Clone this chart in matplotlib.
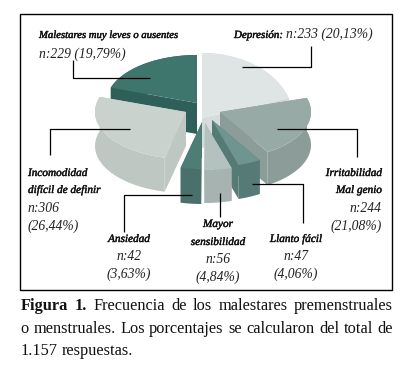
import numpy as np
import matplotlib
matplotlib.use("Agg")
import matplotlib.pyplot as plt
import matplotlib.patheffects as pe
from matplotlib.patches import Polygon, Rectangle

slices = ["Depresion", "Irritabilidad", "Llanto", "Mayor", "Ansiedad", "Incomodidad", "Malestares"]
counts = [233, 244, 47, 56, 42, 306, 229]
percents = ["20,13", "21,08", "4,06", "4,84", "3,63", "26,44", "19,79"]

# slice look: apex position, y radius, depth, top colour, side colour
looks = {
    "Depresion": (202, 118, 65, 30, "#dfe5e4", "#d5dcdb"),
    "Malestares": (197, 103, 48, 31, "#3e766e", "#2f5f59"),
    "Incomodidad": (186, 112, 47, 34, "#c9d2cd", "#bfc7c3"),
    "Irritabilidad": (220, 112, 47, 33, "#98aaa6", "#8c9d99"),
    "Llanto": (212, 120, 47, 34, "#6e968f", "#567a76"),
    "Ansiedad": (202, 122, 47, 35, "#4d7d76", "#4a706c"),
    "Mayor": (205, 123, 47, 33, "#b3c2bf", "#a6b3b1"),
}
draw_order = ["Depresion", "Malestares", "Incomodidad", "Irritabilidad", "Llanto", "Ansiedad", "Mayor"]
radius = 91

fig = plt.figure(figsize=(4.12, 3.75), dpi=100)
ax = fig.add_axes([0, 0, 1, 1])
ax.set_xlim(0, 412)
ax.set_ylim(375, 0)
ax.axis("off")
plt.rcParams["font.family"] = ["Liberation Serif", "DejaVu Serif"]

ax.add_patch(Rectangle((20.5, 13.5), 372, 276, fill=False, ec="black", lw=1.0))


def arc_points(a0, a1, cx, cy, ry):
    """points of the rim, angles in degrees clockwise from the top"""
    t = np.radians(np.linspace(a0, a1, 60))
    return np.column_stack([cx + radius * np.sin(t), cy - ry * np.cos(t)])


# work out the angles from the counts
edges = np.cumsum([0] + counts) / sum(counts) * 360
angles = {name: (edges[i], edges[i + 1]) for i, name in enumerate(slices)}

for name in draw_order:
    cx, cy, ry, depth, top, side = looks[name]
    a0, a1 = angles[name]
    rim = arc_points(a0, a1, cx, cy, ry)
    down = np.array([0, depth])
    apex = np.array([cx, cy])
    # radial walls first, then the outer wall, the top goes last and hides the back
    for p in (rim[0], rim[-1]):
        ax.add_patch(Polygon([apex, p, p + down, apex + down], fc=side, ec="none"))
    ax.add_patch(Polygon(np.vstack([rim, (rim + down)[::-1]]), fc=side, ec="none"))
    ax.add_patch(Polygon(np.vstack([apex, rim]), fc=top, ec="none"))

# leader lines
leaders = [
    ([73, 73, 150], [60, 78, 78]),
    ([311, 311, 242], [46, 67, 67]),
    ([50, 50, 130], [155, 129, 129]),
    ([277, 357, 357], [129, 129, 157]),
    ([192, 124, 124], [195, 195, 232]),
    ([220, 220], [193, 217]),
    ([252, 303, 303], [184, 184, 223]),
]
for xs, ys in leaders:
    ax.plot(xs, ys, color="black", lw=0.9, solid_capstyle="butt")

heavier = [pe.withStroke(linewidth=0.3, foreground="#111111")]


def label(x, y, s, ha="left", size=8.1):
    ax.text(x, y, s, style="italic", fontsize=size, ha=ha, va="baseline", color="#111111",
            path_effects=heavier)


def number(x, y, s, ha="left"):
    # the digits are wide and lighter than the words in the original
    ax.text(x, y, s, style="italic", fontsize=9.8, ha=ha, va="baseline", color="#222222")


label(39, 38, "Malestares muy leves o ausentes", size=7.7)
number(39, 58, f"n:{counts[6]} ({percents[6]}%)")
label(234, 38, "Depresión:", size=7.9)
number(373, 38, f"n:{counts[0]} ({percents[0]}%)", ha="right")

label(28, 176, "Incomodidad")
label(28, 193, "difícil de definir")
number(28, 212, f"n:{counts[5]}")
number(28, 230, f"({percents[5]}%)")

label(382, 176, "Irritabilidad", ha="right")
label(382, 193, "Mal genio", ha="right")
number(382, 212, f"n:{counts[1]}", ha="right")
number(382, 230, f"({percents[1]}%)", ha="right")

label(129, 242, "Ansiedad", ha="center")
number(129, 260, f"n:{counts[4]}", ha="center")
number(129, 278, f"({percents[4]}%)", ha="center")

label(218, 227, "Mayor", ha="center")
label(218, 245, "sensibilidad", ha="center")
number(218, 263, f"n:{counts[3]}", ha="center")
number(218, 281, f"({percents[3]}%)", ha="center")

label(296, 242, "Llanto fácil", ha="center")
number(296, 260, f"n:{counts[2]}", ha="center")
number(296, 278, f"({percents[2]}%)", ha="center")

# caption, first two lines justified word by word
caption = [
    (310, "Figura 1. Frecuencia de los malestares premenstruales", True),
    (333, "o menstruales. Los porcentajes se calcularon del total de", True),
    (355, "1.157 respuestas.", False),
]
renderer = fig.canvas.get_renderer()
x_left, x_right = 20.5, 393
for y, line, justify in caption:
    words = line.split(" ")
    items = []
    for w in words:
        bold = line.startswith("Figura") and w in ("Figura", "1.")
        items.append(ax.text(0, y, w, fontsize=11.8, va="baseline", color="#111111",
                             fontweight="bold" if bold else "normal"))
    widths = [t.get_window_extent(renderer).width for t in items]
    gap = (x_right - x_left - sum(widths)) / (len(words) - 1) if justify else 4.0
    x = x_left
    for t, w in zip(items, widths):
        t.set_x(x)
        x += w + gap

fig.savefig("out.png", dpi=100, facecolor="white")
